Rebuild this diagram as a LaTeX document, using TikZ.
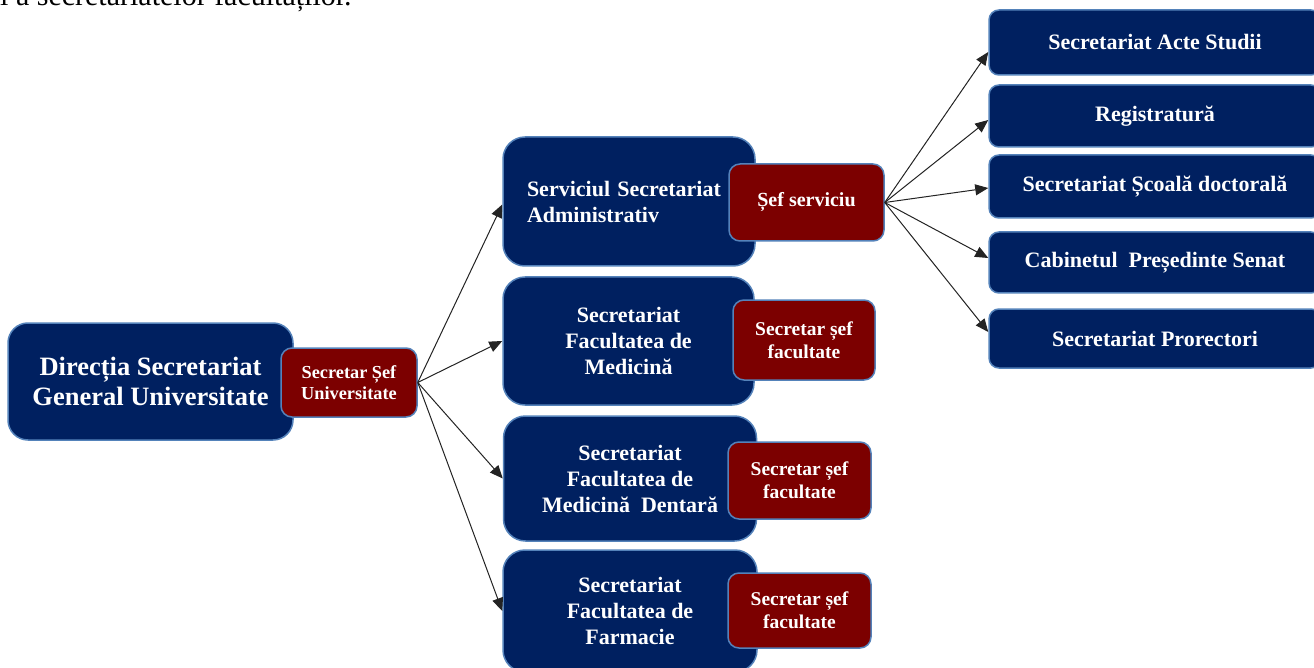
\documentclass[tikz,border=0pt]{standalone}
\usepackage{fontspec}
\setmainfont{Liberation Serif}
\usetikzlibrary{arrows.meta}
\definecolor{navyb}{RGB}{0,32,96}
\definecolor{maroonb}{RGB}{124,0,0}
\definecolor{edgeb}{RGB}{84,130,186}
\definecolor{arrowc}{RGB}{35,35,35}
\tikzset{
  navybox/.style={draw=edgeb, line width=1.5pt, fill=navyb, text=white,
    rounded corners=#1, inner sep=0pt, align=center},
  navybox/.default=18pt,
  redbox/.style={draw=edgeb, line width=1.5pt, fill=maroonb, text=white,
    rounded corners=11pt, inner sep=0pt, align=center,
    font=\bfseries\fontsize{19.5}{23}\selectfont},
  facfont/.style={font=\bfseries\fontsize{22}{26}\selectfont},
  rightbox/.style={navybox=10pt, minimum width=332pt,
    font=\bfseries\fontsize{22}{25}\selectfont},
  conn/.style={draw=arrowc, line width=1pt, -{Triangle[length=13pt,width=11pt]}}
}
\begin{document}
\begin{tikzpicture}[x=1pt,y=-1pt]
\useasboundingbox (0,0) rectangle (1314,668);
\clip (0,0) rectangle (1314,668);

\node[anchor=base west, inner sep=0pt, font=\fontsize{30}{34}\selectfont] (toptext) at (-11.7,6) {și a secretariatelor facultăților.};

% main
\node[navybox=20pt, minimum width=285pt, minimum height=117pt,
  font=\bfseries\fontsize{26.5}{30}\selectfont] (dir) at (150.5,381.5)
  {Direcția Secretariat\\General Universitate};
\node[redbox, minimum width=136pt, minimum height=69pt,
  font=\bfseries\fontsize{18.3}{20.5}\selectfont] (ssu) at (349,382.5)
  {Secretar Șef\\Universitate};

% middle column
\node[navybox=22pt, facfont, minimum width=252pt, minimum height=129pt,
  text width=204pt, inner xsep=24pt, align=left] (ssa) at (629,201.5)
  {Serviciul Secretariat\\Administrativ};
\node[redbox, minimum width=155pt, minimum height=77pt,
  font=\bfseries\fontsize{20}{23}\selectfont] (ss) at (806.5,202.5) {Șef serviciu};

\node[navybox=22pt, facfont, minimum width=251pt, minimum height=128pt] (fm) at (628.5,341)
  {Secretariat\\Facultatea de\\Medicină};
\node[redbox, minimum width=142pt, minimum height=80pt] (rfm) at (804,340)
  {Secretar șef\\facultate};

\node[navybox=22pt, facfont, minimum width=253pt, minimum height=125pt] (fmd) at (630,478.5)
  {Secretariat\\Facultatea de\\Medicină\ \ Dentară};
\node[redbox, minimum width=143pt, minimum height=77pt] (rfmd) at (799.5,480.5)
  {Secretar șef\\facultate};

\node[navybox=22pt, facfont, minimum width=254pt, minimum height=122pt] (ff) at (630,611)
  {Secretariat\\Facultatea de\\Farmacie};
\node[redbox, minimum width=143pt, minimum height=75pt] (rff) at (799.5,610.5)
  {Secretar șef\\facultate};

% right column
\node[rightbox, minimum height=65pt] (r1) at (1155,42.5) {Secretariat Acte Studii};
\node[rightbox, minimum height=62pt] (r2) at (1155,116) {Registratură};
\node[rightbox, minimum height=63pt] (r3) at (1155,186.5) {Secretariat Școală doctorală};
\node[rightbox, minimum height=61pt] (r4) at (1155,262.5) {Cabinetul\ \ Președinte Senat};
\node[rightbox, minimum height=59pt] (r5) at (1155,338.5) {Secretariat Prorectori};

% connectors
\draw[conn] (ssu.east) -- ([yshift=-3pt]ssa.west);
\draw[conn] (ssu.east) -- (fm.west);
\draw[conn] (ssu.east) -- (fmd.west);
\draw[conn] (ssu.east) -- (ff.west);

\draw[conn] (ss.east) -- ([yshift=-9.5pt]r1.west);
\draw[conn] (ss.east) -- ([yshift=-4pt]r2.west);
\draw[conn] (ss.east) -- ([yshift=-1.5pt]r3.west);
\draw[conn] (ss.east) -- ([yshift=4.5pt]r4.west);
\draw[conn] (ss.east) -- ([yshift=6.5pt]r5.west);
\end{tikzpicture}
\end{document}
